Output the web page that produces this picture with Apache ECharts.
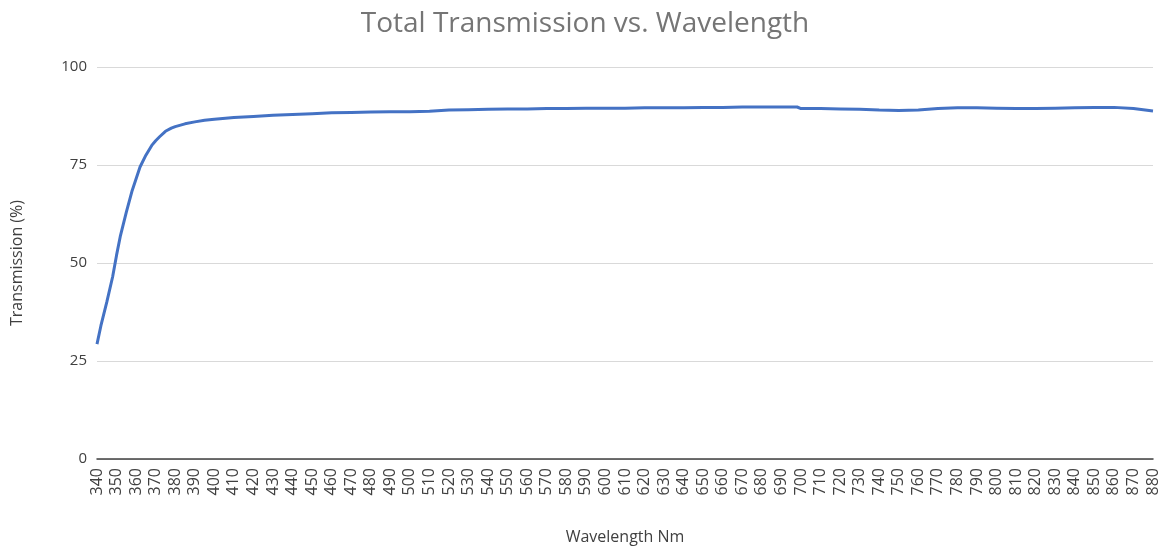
<!DOCTYPE html>
<html>
<head>
<meta charset="utf-8">
<script src="https://cdn.jsdelivr.net/npm/echarts@6/dist/echarts.min.js"></script>
<style>
  html, body { margin: 0; padding: 0; background: #fff; }
</style>
</head>
<body>
<div id="main" style="width:1170px;height:551px;"></div>
<script>
// wavelength (nm) and total transmission (%)
const wavelengths = [340, 342, 345, 348, 350, 352, 355, 358, 360, 362, 365, 368, 370, 372, 375, 378, 380, 385, 390, 395,
  400, 410, 420, 430, 440, 450, 460, 470, 480, 490, 500, 510, 520, 530, 540, 550, 560, 570, 580, 590,
  600, 610, 620, 630, 640, 650, 660, 670, 680, 690, 698, 700, 710, 720, 730, 740, 750, 760, 770, 780,
  790, 800, 810, 820, 830, 840, 850, 860, 870, 880];
const transmission = [29.3, 34, 40, 46.5, 52, 57, 63, 68.5, 71.5, 74.5, 77.5, 80, 81.2, 82.2, 83.6, 84.4, 84.8, 85.5, 86.0, 86.4,
  86.7, 87.1, 87.4, 87.7, 87.9, 88.1, 88.3, 88.4, 88.5, 88.6, 88.6, 88.7, 89.0, 89.1, 89.2, 89.3, 89.3, 89.4, 89.4, 89.5,
  89.5, 89.5, 89.6, 89.6, 89.6, 89.7, 89.7, 89.8, 89.8, 89.8, 89.8, 89.4, 89.4, 89.3, 89.2, 89.0, 88.9, 89.0, 89.4, 89.6,
  89.6, 89.5, 89.4, 89.4, 89.5, 89.6, 89.7, 89.7, 89.4, 88.8];
const yTicks = [0, 25, 50, 75, 100];

let chart = echarts.init(document.getElementById('main'));

chart.setOption({
  animation: false,
  title: {
    text: 'Total Transmission vs. Wavelength',
    left: 'center',
    top: 5,
    textStyle: { fontFamily: 'Open Sans', fontSize: 28, fontWeight: 'normal', color: '#757575' }
  },
  grid: { left: 97, right: 17, top: 67, bottom: 92 },
  xAxis: {
    type: 'value',
    min: 340,
    max: 880,
    interval: 10,
    name: 'Wavelength Nm',
    nameLocation: 'middle',
    nameGap: 70,
    nameTextStyle: { fontFamily: 'Open Sans', fontSize: 16, color: '#404040' },
    axisLine: { lineStyle: { color: '#404040', width: 1.5 } },
    axisTick: { show: false },
    splitLine: { show: false },
    axisLabel: { rotate: 90, fontFamily: 'Open Sans', fontSize: 16, color: '#404040', margin: 9 }
  },
  yAxis: {
    type: 'value',
    min: yTicks[0],
    max: yTicks[yTicks.length - 1],
    interval: 25,
    name: 'Transmission (%)',
    nameLocation: 'middle',
    nameGap: 72,
    nameTextStyle: { fontFamily: 'Open Sans', fontSize: 16, color: '#404040' },
    axisLine: { show: false },
    axisTick: { show: false },
    axisLabel: { fontFamily: 'Open Sans', fontSize: 15, color: '#404040', margin: 10 },
    splitLine: { lineStyle: { color: '#d9d9d9', width: 1 } }
  },
  series: [{
    type: 'line',
    data: wavelengths.map((w, i) => [w, transmission[i]]),
    showSymbol: false,
    lineStyle: { color: '#4472c4', width: 3 },
    itemStyle: { color: '#4472c4' }
  }]
});
</script>
</body>
</html>
